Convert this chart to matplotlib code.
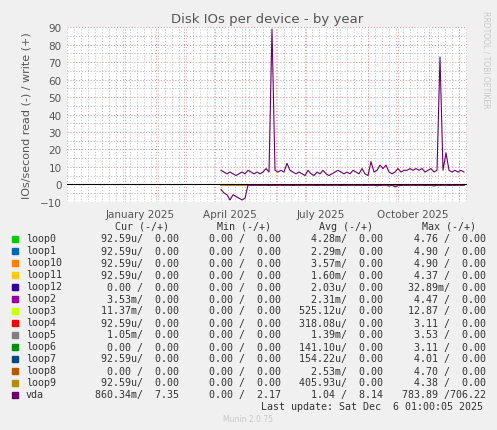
import matplotlib
matplotlib.use('Agg')
import matplotlib.pyplot as plt
import numpy as np

# days relative to the last update (Sat Dec 6 2025), every 3 days
vda_write = [8, 7, 6, 7, 6, 5, 6, 7, 6, 8, 7, 6, 7, 6, 7, 9, 7, 89, 8, 7,
             8, 7, 12, 8, 7, 6, 7, 6, 5, 8, 6, 5, 7, 6, 8, 6, 5, 6, 7, 8,
             7, 6, 7, 6, 8, 7, 6, 9, 6, 5, 13, 7, 8, 11, 9, 11, 7, 6, 7, 9,
             7, 8, 8, 9, 8, 9, 8, 9, 7, 8, 9, 7, 8, 73, 8, 18, 8, 7, 8, 7,
             8, 7]
vda_read = [-3, -5, -6, -9, -6, -7, -8, -9, -8, -0.5, -0.6, -0.5, -0.5, -0.6, -0.5, -0.5, -0.7, -0.5, -0.6, -0.5,
            -0.5, -0.6, -0.5, -0.5, -0.7, -0.5, -0.6, -0.5, -0.5, -0.6, -0.5, -0.5, -0.7, -0.5, -0.6, -0.5, -0.5, -0.6, -0.5, -0.5,
            -0.7, -0.5, -0.6, -0.5, -0.5, -0.6, -0.5, -0.5, -0.7, -0.5, -0.6, -0.5, -0.9, -0.6, -0.5, -0.5, -1.0, -0.5, -1.5, -0.8,
            -0.7, -0.5, -0.6, -0.5, -0.5, -0.6, -0.5, -0.5, -0.7, -0.5, -0.6, -1.0, -0.5, -0.6, -0.5, -0.5, -0.7, -0.5, -0.6, -0.5,
            -0.5, -0.6]
days = -3 * np.arange(len(vda_write))[::-1]

names = ['loop0', 'loop1', 'loop10', 'loop11', 'loop12', 'loop2', 'loop3', 'loop4',
         'loop5', 'loop6', 'loop7', 'loop8', 'loop9', 'vda']
colors = ['#00CC00', '#0066B3', '#FF8000', '#FFCC00', '#330099', '#990099', '#CCFF00',
          '#FF0000', '#808080', '#008F00', '#00487D', '#B35A00', '#B38F00', '#6B006B']
cur = ['92.59u/  0.00', '92.59u/  0.00', '92.59u/  0.00', '92.59u/  0.00', '0.00 /  0.00',
       '3.53m/  0.00', '11.37m/  0.00', '92.59u/  0.00', '1.05m/  0.00', '0.00 /  0.00',
       '92.59u/  0.00', '0.00 /  0.00', '92.59u/  0.00', '860.34m/  7.35']
mins = ['0.00 /  0.00'] * 13 + ['0.00 /  2.17']
avgs = ['4.28m/  0.00', '2.29m/  0.00', '3.57m/  0.00', '1.60m/  0.00', '2.03u/  0.00',
        '2.31m/  0.00', '525.12u/  0.00', '318.08u/  0.00', '1.39m/  0.00', '141.10u/  0.00',
        '154.22u/  0.00', '2.53m/  0.00', '405.93u/  0.00', '1.04 /  8.14']
maxs = ['4.76 /  0.00', '4.90 /  0.00', '4.90 /  0.00', '4.37 /  0.00', '32.89m/  0.00',
        '4.47 /  0.00', '12.87 /  0.00', '3.11 /  0.00', '3.53 /  0.00', '3.11 /  0.00',
        '4.01 /  0.00', '4.70 /  0.00', '4.38 /  0.00', '783.89 /706.22']

month_starts = [-339, -308, -280, -249, -219, -188, -158, -127, -96, -66, -35, -5]
month_labels = {'January 2025': -324, 'April 2025': -234, 'July 2025': -143, 'October 2025': -51}

W, H = 497, 431
fig = plt.figure(figsize=(W / 100, H / 100), dpi=100)
fig.patch.set_facecolor('#F0F0F0')
ax = fig.add_axes([67 / W, 1 - 202.7 / H, 400 / W, (202.7 - 28.3) / H])
ax.set_facecolor('white')
ax.set_xlim(-397, 3)
ax.set_ylim(-10, 90)

for y in range(-10, 91, 5):
    major = y % 10 == 0
    ax.axhline(y, color='#E89090' if major else '#B8B8B8', lw=0.7, ls=(0, (1, 2)), zorder=0)
for d in range(-397, 3, 7):
    ax.axvline(d, color='#B8B8B8', lw=0.7, ls=(0, (1, 2)), zorder=0)
for d in month_starts:
    ax.axvline(d, color='#E89090', lw=0.7, ls=(0, (1, 2)), zorder=0)

for n, c in zip(names[:-1], colors[:-1]):
    ax.plot(days, np.zeros(len(days)) - 0.3, color=c, lw=0.7)
ax.plot(days[:5], [-0.4] * 5, color='#B38F00', lw=1.5)
ax.axhline(0, color='black', lw=0.8)
ax.plot(days, vda_read, color=colors[-1], lw=0.8)
ax.plot(days, vda_write, color=colors[-1], lw=0.8)

for s in ax.spines.values():
    s.set_visible(False)
ax.set_yticks(range(-10, 91, 10))
ax.tick_params(axis='y', length=0, labelsize=7.5, labelcolor='#555555', pad=4)
ax.set_xticks(list(month_labels.values()))
ax.set_xticklabels(list(month_labels.keys()))
ax.tick_params(axis='x', length=0, labelsize=7.5, labelcolor='#555555', pad=5)
ax.set_ylabel('IOs/second read (-) / write (+)', fontsize=8, color='#555555', labelpad=6)
ax.set_title('Disk IOs per device - by year', fontsize=9.5, color='#555555', pad=4)

fig.text(486 / W, 1 - 60 / H, 'RRDTOOL / TOBI OETIKER', rotation=270, fontsize=5.5,
         color='#C8C8C8', ha='center', va='center')

mono = dict(family='DejaVu Sans Mono', fontsize=7.2, color='#333333', va='center')
cols = [(169, 'Cur (-/+)'), (271, 'Min (-/+)'), (373, 'Avg (-/+)'), (476, 'Max (-/+)')]
for x, t in cols:
    fig.text(x / W, 1 - 227 / H, t, ha='right', **mono)
for i, n in enumerate(names):
    y = 1 - (239.5 + 12 * i) / H
    fig.patches.append(plt.Rectangle((12 / W, y - 3 / H), 6 / W, 6 / H, color=colors[i],
                                     transform=fig.transFigure, figure=fig))
    fig.text(26 / W, y, n, ha='left', **mono)
    for (x, _), v in zip(cols, [cur[i], mins[i], avgs[i], maxs[i]]):
        fig.text((x + 10) / W, y, v, ha='right', **mono)
fig.text(483 / W, 1 - 407 / H, 'Last update: Sat Dec  6 01:00:05 2025', ha='right', **mono)
fig.text(248 / W, 1 - 420 / H, 'Munin 2.0.75', ha='center', va='center', fontsize=5.5, color='#C8C8C8')

fig.savefig('out.png', dpi=100, facecolor=fig.get_facecolor())
